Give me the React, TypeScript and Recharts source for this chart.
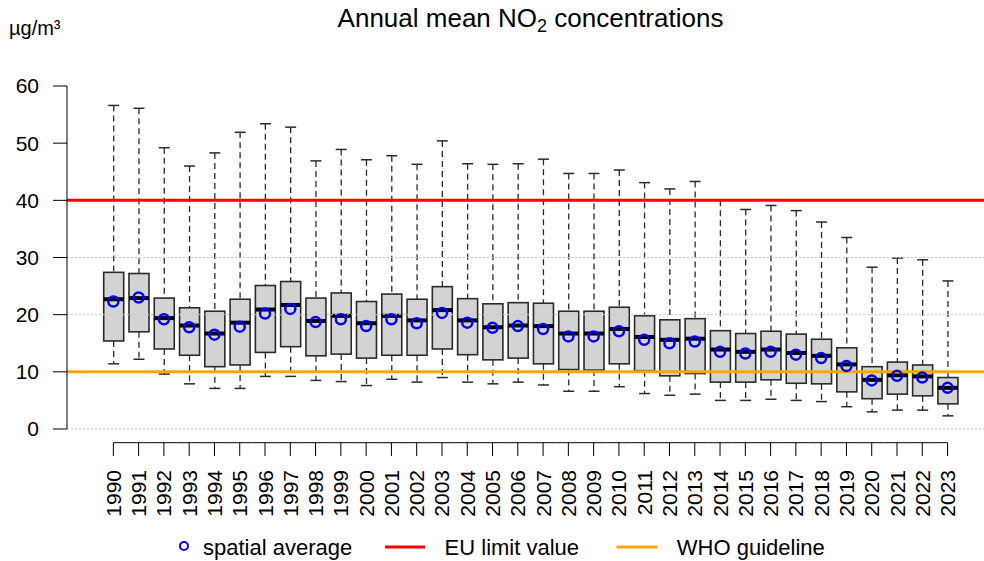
import React from 'react';
import { ComposedChart, Bar, Line, XAxis, YAxis, ReferenceLine } from 'recharts';

const years = ['1990','1991','1992','1993','1994','1995','1996','1997','1998','1999','2000','2001','2002','2003','2004','2005','2006','2007','2008','2009','2010','2011','2012','2013','2014','2015','2016','2017','2018','2019','2020','2021','2022','2023'];
const whiskerHigh = [56.6,56.1,49.2,46.0,48.3,51.9,53.4,52.8,46.9,48.9,47.1,47.8,46.3,50.4,46.4,46.3,46.4,47.2,44.7,44.7,45.3,43.1,42.0,43.3,40.0,38.4,39.1,38.2,36.2,33.5,28.3,29.9,29.6,25.9];
const q3 = [27.4,27.2,22.9,21.2,20.6,22.7,25.1,25.8,22.9,23.8,22.3,23.6,22.7,24.9,22.8,21.9,22.1,22.0,20.6,20.6,21.3,19.8,19.1,19.3,17.2,16.7,17.1,16.6,15.7,14.2,10.9,11.7,11.2,9.0];
const median = [22.7,22.9,19.4,18.1,16.7,18.6,20.9,21.7,18.9,19.8,18.5,19.8,19.0,20.8,19.0,17.8,18.1,18.0,16.7,16.7,17.5,16.1,15.6,15.8,13.9,13.5,13.9,13.3,12.8,11.3,8.6,9.4,9.2,7.2];
const q1 = [15.4,17.0,14.0,12.9,10.9,11.2,13.4,14.4,12.8,13.1,12.4,12.9,12.9,14.0,13.0,12.1,12.4,11.4,10.4,10.3,11.4,10.2,9.3,9.7,8.2,8.2,8.6,8.0,7.9,6.5,5.3,6.1,5.8,4.4];
const whiskerLow = [11.4,12.2,9.6,7.9,7.1,7.1,9.2,9.2,8.5,8.3,7.6,8.7,8.2,9.0,8.2,7.9,8.2,7.7,6.6,6.6,7.4,6.2,5.9,6.1,5.0,5.0,5.2,5.0,4.8,3.9,3.0,3.3,3.3,2.3];
const spatialMean = [22.3,23.0,19.2,17.8,16.5,17.9,20.2,21.0,18.7,19.2,18.0,19.2,18.5,20.3,18.6,17.7,18.0,17.5,16.2,16.2,17.1,15.6,15.0,15.3,13.5,13.2,13.5,13.0,12.4,11.0,8.5,9.3,9.0,7.2];
const yTicks = [0, 10, 20, 30, 40, 50, 60];
const gridValues = [0, 10, 20, 30, 40];
const euLimit = 40;
const whoGuideline = 10;

const data = years.map((year, i) => ({
  year,
  range: [whiskerLow[i], whiskerHigh[i]],
  q1: q1[i],
  median: median[i],
  q3: q3[i],
  mean: spatialMean[i],
}));

const W = 984;
const H = 561;
const PLOT_LEFT = 67;
const PLOT_TOP = 86;
const PLOT_BOTTOM = 429;
const PAD_L = 33.7;
const PAD_R = 23.8;
const STEP = (W - PLOT_LEFT - PAD_L - PAD_R) / years.length;
const FONT = '"Liberation Sans", Arial, Helvetica, sans-serif';

function BoxShape(props: any) {
  const { x, y, width, height, payload } = props;
  if (x == null || payload == null) return null;
  const lo = payload.range[0];
  const hi = payload.range[1];
  const yHi = y;
  const yLo = y + height;
  const toY = (v: number) => yHi + (yLo - yHi) * (hi - v) / (hi - lo);
  const cx = x + width / 2;
  const cap = 5.5;
  const yq1 = toY(payload.q1);
  const yq3 = toY(payload.q3);
  const ymed = toY(payload.median);
  return (
    <g>
      <line x1={cx} x2={cx} y1={yHi} y2={yq3} stroke="#2b2b2b" strokeWidth={1.3} strokeDasharray="6 4" />
      <line x1={cx} x2={cx} y1={yq1} y2={yLo} stroke="#2b2b2b" strokeWidth={1.3} strokeDasharray="6 4" />
      <line x1={cx - cap} x2={cx + cap} y1={yHi} y2={yHi} stroke="#2b2b2b" strokeWidth={1.5} />
      <line x1={cx - cap} x2={cx + cap} y1={yLo} y2={yLo} stroke="#2b2b2b" strokeWidth={1.5} />
      <rect x={x} y={yq3} width={width} height={yq1 - yq3} fill="#d3d3d3" stroke="#2b2b2b" strokeWidth={1.6} />
      <line x1={x} x2={x + width} y1={ymed} y2={ymed} stroke="#000" strokeWidth={4} />
    </g>
  );
}

function MeanDot(props: any) {
  const { cx, cy } = props;
  if (cx == null || cy == null) return <g />;
  return <circle cx={cx} cy={cy} r={5} fill="none" stroke="#0000ff" strokeWidth={2.5} />;
}

function XTick(props: any) {
  const { x, y, payload, index } = props;
  const n = years.length;
  const ay = y + 13.7;
  const ty = y + 41;
  return (
    <g>
      <line x1={index === 0 ? x : x - STEP / 2} x2={index === n - 1 ? x : x + STEP / 2} y1={ay} y2={ay} stroke="#000" strokeWidth={1} />
      <line x1={x} x2={x} y1={ay} y2={y + 27} stroke="#000" strokeWidth={1} />
      <text x={x} y={ty} transform={`rotate(-90 ${x} ${ty})`} textAnchor="end" dominantBaseline="central" fontSize={21} fill="#000" fontFamily={FONT}>
        {payload.value}
      </text>
    </g>
  );
}

export default function App() {
  return (
    <div style={{ position: 'relative', width: W, height: H, background: '#fff', fontFamily: FONT }}>
      <style>{'body{margin:0;}'}</style>
      <ComposedChart width={W} height={H} data={data} margin={{ top: PLOT_TOP, right: 0, bottom: 0, left: 0 }} barSize={20}>
        {gridValues.map((v) => (
          <ReferenceLine key={'g' + v} y={v} stroke="#c8c8c8" strokeWidth={1} strokeDasharray="2 2" />
        ))}
        <XAxis
          dataKey="year"
          type="category"
          padding={{ left: PAD_L, right: PAD_R }}
          height={H - PLOT_BOTTOM}
          axisLine={false}
          tickLine={false}
          tickSize={0}
          tickMargin={0}
          interval={0}
          tick={<XTick />}
        />
        <YAxis
          type="number"
          domain={[0, 60]}
          ticks={yTicks}
          width={PLOT_LEFT}
          tickSize={14}
          tickMargin={14}
          axisLine={{ stroke: '#000', strokeWidth: 1 }}
          tickLine={{ stroke: '#000', strokeWidth: 1 }}
          tick={{ fontSize: 21, fill: '#000', fontFamily: FONT }}
          interval={0}
        />
        <Bar dataKey="range" shape={<BoxShape />} isAnimationActive={false} />
        <ReferenceLine y={euLimit} stroke="#ff0000" strokeWidth={3} />
        <ReferenceLine y={whoGuideline} stroke="#ffa500" strokeWidth={3} />
        <Line dataKey="mean" stroke="none" dot={<MeanDot />} activeDot={false} isAnimationActive={false} />
      </ComposedChart>
      <svg width={W} height={H} style={{ position: 'absolute', left: 0, top: 0, pointerEvents: 'none' }}>
        <text x={530.5} y={27} textAnchor="middle" fontSize={26} fill="#000" fontFamily={FONT}>
          Annual mean NO<tspan fontSize={18} dy={5}>2</tspan><tspan dy={-5}> concentrations</tspan>
        </text>
        <text x={9} y={35} fontSize={20} fill="#000" fontFamily={FONT}>µg/m³</text>
        <circle cx={184} cy={546} r={4} fill="none" stroke="#0000ff" strokeWidth={2} />
        <text x={203} y={555} fontSize={22} fill="#000" fontFamily={FONT}>spatial average</text>
        <line x1={385} x2={425} y1={547} y2={547} stroke="#ff0000" strokeWidth={3} />
        <text x={444.6} y={555} fontSize={22} fill="#000" fontFamily={FONT}>EU limit value</text>
        <line x1={616.5} x2={657.6} y1={547} y2={547} stroke="#ffa500" strokeWidth={3} />
        <text x={676.8} y={555} fontSize={22} fill="#000" fontFamily={FONT}>WHO guideline</text>
      </svg>
    </div>
  );
}
